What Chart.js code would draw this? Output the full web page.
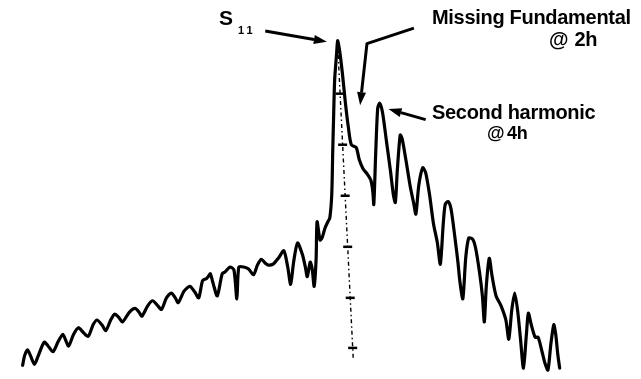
<!DOCTYPE html>
<html lang="en">
<head>
	<meta charset="UTF-8">
	<title>S11 spectrum</title>
	<script src="https://cdn.jsdelivr.net/npm/chart.js@4.4.0/dist/chart.umd.min.js"></script>
	<style>
		* {
			box-sizing: border-box;
		}

		html, body {
			margin: 0;
			padding: 0;
			width: 641px;
			height: 379px;
			overflow: hidden;
			background: #fff;
		}

		#wrap {
			position: relative;
			width: 641px;
			height: 379px;
		}

		.lbl {
			position: absolute;
			font-family: "Liberation Sans", Arial, Helvetica, sans-serif;
			font-weight: bold;
			font-size: 20px;
			line-height: 1;
			letter-spacing: -0.3px;
			color: #000;
			white-space: nowrap;
		}
	</style>
</head>

<body>
	<div id="wrap">
		<canvas id="chart" width="641" height="379"></canvas>
		<div class="lbl" style="left:219px; top:7px; font-size:21px;">S</div>
		<div class="lbl" style="left:238px; top:25px; font-size:11px; letter-spacing:3px;">11</div>
		<div class="lbl" style="left:432px; top:7px;">Missing Fundamental</div>
		<div class="lbl" style="left:549px; top:29px; word-spacing:1px;">@ 2h</div>
		<div class="lbl" style="left:487px; top:124px; font-size:18px; word-spacing:-2px;">@ 4h</div>
		<div class="lbl" style="left:432px; top:102px;">Second harmonic</div>
	</div>

	<script>
		// trace, x / y in picture units (y grows downward)
		const traceX = [16, 18, 21, 24, 28, 32, 38, 42, 47, 52, 57, 60, 63, 68, 73, 78, 83, 88, 92, 97,
			101, 106, 110, 114, 118, 125, 131, 135, 138, 144, 149, 154, 158, 163, 168, 172, 175, 181, 187, 192,
			196, 200, 204, 207, 208, 211, 215, 220, 223, 228, 232, 235, 237, 242, 247, 252, 256, 260, 264, 267,
			272, 278, 283, 287, 290, 293, 297, 302, 305, 307, 310, 312, 314, 316, 317, 320, 322, 325, 328, 330,
			332, 333, 334, 335, 337, 338, 340, 343, 346, 349, 352, 357, 360, 364, 368, 372, 374, 375, 377, 379,
			381, 384, 388, 392, 395, 397, 399, 402, 404, 408, 412, 416, 418, 421, 425, 428, 432, 436, 440, 443,
			446, 448, 451, 454, 458, 461, 463, 466, 469, 472, 476, 479, 483, 486, 488, 490, 493, 496, 500, 505,
			510, 513, 516, 519, 522, 525, 528, 531, 533, 536, 540, 543, 547, 550, 553, 556, 559, 561, 563, 565];
		const traceY = [372, 362, 356, 362, 371, 362, 348, 352, 358, 348, 340, 346, 352, 340, 333, 338, 342, 330, 325, 330,
			336, 325, 319, 322, 327, 317, 313, 317, 321, 310, 305, 310, 314, 302, 297, 302, 307, 295, 290, 296,
			302, 284, 282, 278, 277, 288, 300, 277, 275, 270, 273, 303, 270, 270, 272, 278, 268, 262, 266, 268,
			267, 260, 253, 270, 288, 265, 245, 257, 270, 280, 265, 272, 290, 262, 223, 242, 240, 230, 223, 219,
			195, 150, 110, 75, 48, 35, 45, 70, 100, 125, 143, 146, 158, 168, 173, 180, 192, 205, 150, 105,
			100, 110, 140, 170, 195, 203, 170, 133, 137, 160, 185, 205, 215, 185, 167, 172, 195, 225, 245, 267,
			225, 205, 202, 210, 240, 265, 285, 303, 260, 240, 241, 250, 275, 300, 327, 290, 261, 280, 300, 310,
			325, 345, 315, 297, 315, 345, 375, 340, 318, 330, 343, 343, 358, 370, 377, 350, 330, 340, 360, 375];

		// dash-dot marker line through the S11 peak
		const axisX = [338, 354];
		const axisY = [38, 366];
		const tickY = [90, 143, 196, 249, 302, 354];

		// annotation arrows (polyline, head at last point)
		const arrows = [
			[[264, 25], [327, 36]],
			[[416, 22], [368, 38], [361, 102]],
			[[428, 117], [390, 106]]
		];

		const trace = traceX.map((x, i) => ({ x: x, y: traceY[i] }));
		const axisLine = axisX.map((x, i) => ({ x: x, y: axisY[i] }));
		const ticks = tickY.map(y => ({
			x: axisX[0] + (axisX[1] - axisX[0]) * (y - axisY[0]) / (axisY[1] - axisY[0]),
			y: y
		}));

		const arrowPlugin = {
			id: 'arrows',
			afterDatasetsDraw(chart) {
				const c = chart.ctx;
				const sx = chart.scales.x;
				const sy = chart.scales.y;
				c.save();
				c.strokeStyle = '#000';
				c.fillStyle = '#000';
				c.lineWidth = 3;
				c.lineJoin = 'round';
				arrows.forEach(a => {
					const pts = a.map(p => [sx.getPixelForValue(p[0]), sy.getPixelForValue(p[1])]);
					const n = pts.length;
					const ang = Math.atan2(pts[n - 1][1] - pts[n - 2][1], pts[n - 1][0] - pts[n - 2][0]);
					const len = 13, half = 4.5;
					const bx = pts[n - 1][0] - len * Math.cos(ang);
					const by = pts[n - 1][1] - len * Math.sin(ang);
					c.beginPath();
					c.moveTo(pts[0][0], pts[0][1]);
					for (let i = 1; i < n - 1; i++) c.lineTo(pts[i][0], pts[i][1]);
					c.lineTo(bx, by);
					c.stroke();
					c.beginPath();
					c.moveTo(pts[n - 1][0], pts[n - 1][1]);
					c.lineTo(bx + half * Math.sin(ang), by - half * Math.cos(ang));
					c.lineTo(bx - half * Math.sin(ang), by + half * Math.cos(ang));
					c.closePath();
					c.fill();
				});
				c.restore();
			}
		};

		const config = {
			type: 'scatter',
			data: {
				datasets: [
					{
						data: trace,
						showLine: true,
						borderColor: '#000',
						borderWidth: 3.2,
						pointRadius: 0,
						tension: 0.25,
						borderJoinStyle: 'round',
						borderCapStyle: 'round'
					},
					{
						data: axisLine,
						showLine: true,
						borderColor: '#000',
						borderWidth: 1.4,
						borderDash: [4, 3, 1.5, 3],
						pointRadius: 0
					},
					{
						data: ticks,
						showLine: false,
						pointStyle: 'line',
						pointRadius: 4.5,
						borderColor: '#000',
						borderWidth: 2.5
					}
				]
			},
			options: {
				responsive: false,
				animation: false,
				events: [],
				layout: { padding: 0 },
				plugins: {
					legend: { display: false },
					tooltip: { enabled: false }
				},
				scales: {
					x: { type: 'linear', min: 0, max: 641, display: false },
					y: { type: 'linear', min: 0, max: 379, reverse: true, display: false }
				}
			},
			plugins: [arrowPlugin]
		};

		new Chart(document.getElementById('chart'), config);
	</script>
</body>
</html>
